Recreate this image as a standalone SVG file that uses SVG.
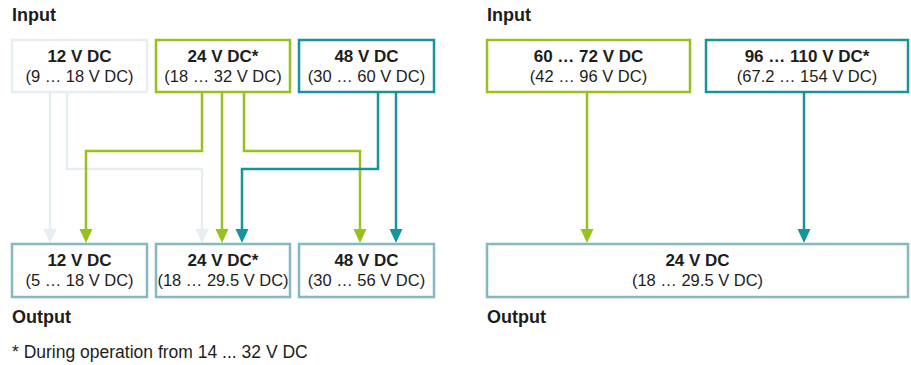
<svg xmlns="http://www.w3.org/2000/svg" width="911" height="365" viewBox="0 0 911 365">
<defs>
<style>
text{font-family:"Liberation Sans",Arial,sans-serif;fill:#1d1d1b;font-size:16.5px}
.b{font-weight:bold;font-size:17px}
.h{font-weight:bold;font-size:18px}
.f{font-size:17.5px}
.m{text-anchor:middle}
.box{fill:#fff;stroke-width:2.5}
.in-gray{stroke:#e6eef1}
.in-green{stroke:#97c11f}
.in-teal{stroke:#14959c}
.out{stroke:#85b8c0}
.ln{fill:none;stroke-width:2.5}
</style>
<marker id="ag" markerUnits="userSpaceOnUse" markerWidth="14" markerHeight="14" refX="7" refY="7" orient="auto"><path d="M0,0.5 L14,7 L0,13.5 z" fill="#e6eef1"/></marker>
<marker id="agr" markerUnits="userSpaceOnUse" markerWidth="14" markerHeight="14" refX="7" refY="7" orient="auto"><path d="M0,0.5 L14,7 L0,13.5 z" fill="#97c11f"/></marker>
<marker id="at" markerUnits="userSpaceOnUse" markerWidth="14" markerHeight="14" refX="7" refY="7" orient="auto"><path d="M0,0.5 L14,7 L0,13.5 z" fill="#14959c"/></marker>
</defs>
<rect width="911" height="365" fill="#fff"/>

<text class="h" x="12" y="21">Input</text>
<text class="h" x="487" y="21">Input</text>
<text class="h" x="12" y="323">Output</text>
<text class="h" x="487" y="323">Output</text>
<text class="f" x="12" y="358">* During operation from 14 ... 32 V DC</text>

<g id="connectors">
<path class="ln in-gray" d="M50,92 V236" marker-end="url(#ag)"/>
<path class="ln in-gray" d="M67,92 V169 H202 V236" marker-end="url(#ag)"/>
<path class="ln in-green" d="M202,92 V151 H86 V236" marker-end="url(#agr)"/>
<path class="ln in-green" d="M222,92 V236" marker-end="url(#agr)"/>
<path class="ln in-green" d="M244,92 V151 H360 V236" marker-end="url(#agr)"/>
<path class="ln in-teal" d="M378,92 V169 H242 V236" marker-end="url(#at)"/>
<path class="ln in-teal" d="M396,92 V236" marker-end="url(#at)"/>
<path class="ln in-green" d="M587,92 V236" marker-end="url(#agr)"/>
<path class="ln in-teal" d="M804,92 V236" marker-end="url(#at)"/>
</g>

<g id="in12">
<rect class="box in-gray" x="12" y="40" width="135" height="52"/>
<text class="b m" x="79.5" y="62">12 V DC</text>
<text class="m" x="79.5" y="82">(9 … 18 V DC)</text>
</g>
<g id="in24">
<rect class="box in-green" x="156" y="40" width="134" height="52"/>
<text class="b m" x="223" y="62">24 V DC*</text>
<text class="m" x="223" y="82">(18 … 32 V DC)</text>
</g>
<g id="in48">
<rect class="box in-teal" x="299" y="40" width="135" height="52"/>
<text class="b m" x="366.5" y="62">48 V DC</text>
<text class="m" x="366.5" y="82">(30 … 60 V DC)</text>
</g>
<g id="out12">
<rect class="box out" x="12" y="244" width="135" height="53"/>
<text class="b m" x="79.5" y="266">12 V DC</text>
<text class="m" x="79.5" y="286">(5 … 18 V DC)</text>
</g>
<g id="out24">
<rect class="box out" x="156" y="244" width="134" height="53"/>
<text class="b m" x="223" y="266">24 V DC*</text>
<text class="m" x="223" y="286">(18 … 29.5 V DC)</text>
</g>
<g id="out48">
<rect class="box out" x="299" y="244" width="135" height="53"/>
<text class="b m" x="366.5" y="266">48 V DC</text>
<text class="m" x="366.5" y="286">(30 … 56 V DC)</text>
</g>
<g id="in60">
<rect class="box in-green" x="487" y="40" width="203" height="52"/>
<text class="b m" x="588.5" y="62">60 … 72 V DC</text>
<text class="m" x="588.5" y="82">(42 … 96 V DC)</text>
</g>
<g id="in96">
<rect class="box in-teal" x="706" y="40" width="202" height="52"/>
<text class="b m" x="807" y="62">96 … 110 V DC*</text>
<text class="m" x="807" y="82">(67.2 … 154 V DC)</text>
</g>
<g id="out24r">
<rect class="box out" x="487" y="244" width="421" height="53"/>
<text class="b m" x="697.5" y="266">24 V DC</text>
<text class="m" x="697.5" y="286">(18 … 29.5 V DC)</text>
</g>
</svg>
